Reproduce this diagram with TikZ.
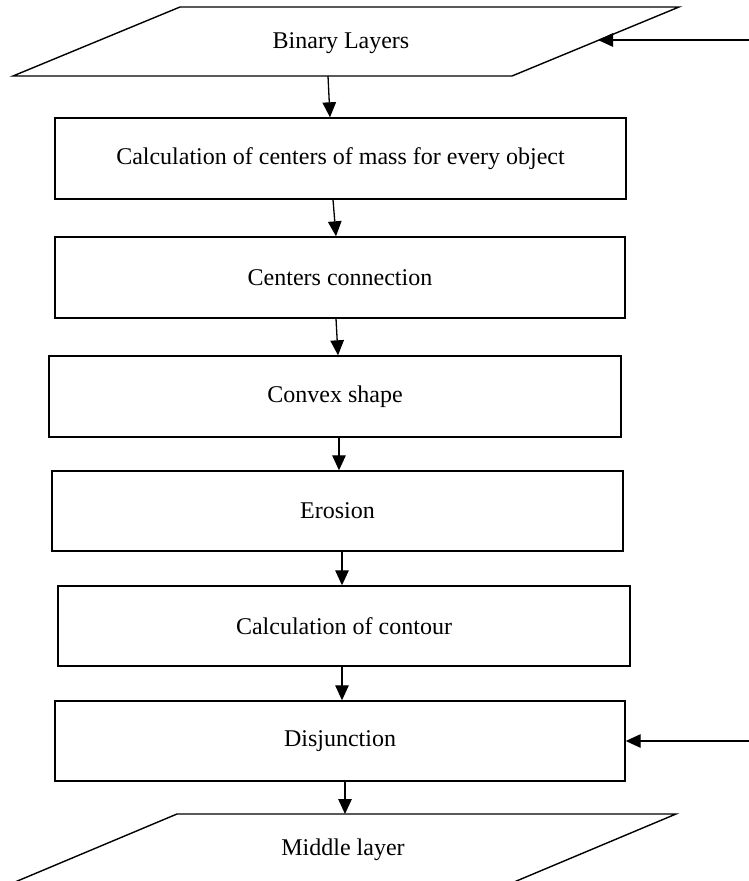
\documentclass[tikz,border=0pt]{standalone}
\usepackage{fontspec}
\setmainfont{Liberation Serif}
\usetikzlibrary{arrows.meta,calc}
\begin{document}
\begin{tikzpicture}[x=1pt,y=-1pt,
  box/.style={draw,line width=1.4pt,rectangle,minimum width=571pt,minimum height=81pt,inner sep=0pt,font=\fontsize{24}{28}\selectfont},
  lbl/.style={inner sep=0pt,font=\fontsize{24}{28}\selectfont},
  arr/.style={line width=1.3pt,-{Triangle[length=15pt,width=13.5pt]}},
  par/.style={line width=1.4pt,line join=miter}]
\clip (0,0) rectangle (749,881);
% top parallelogram
\coordinate (t1) at (180,7);
\coordinate (t2) at (679,7);
\coordinate (t3) at (512,76);
\coordinate (t4) at (13,76);
\draw[par] (t1) -- (t2) -- (t3) -- (t4) -- cycle;
\node[lbl] (binary) at (341,43) {Binary Layers};
\coordinate (tb) at (328,76);
\coordinate (tin) at (749,40);
\coordinate (tr) at (598,40);
% boxes
\node[box] (b1) at (340.5,158.5) {Calculation of centers of mass for every object};
\node[box,minimum width=570pt] (b2) at (340,277.5) {Centers connection};
\node[box,minimum width=572pt] (b3) at (335,396.5) {Convex shape};
\node[box,minimum height=80pt] (b4) at (337.5,511) {Erosion};
\node[box,minimum width=572pt,minimum height=80pt] (b5) at (344,626) {Calculation of contour};
\node[box,minimum width=570pt,minimum height=80pt] (b6) at (340,741) {Disjunction};
% bottom parallelogram
\coordinate (m1) at (177,814);
\coordinate (m2) at (676,814);
\coordinate (m3) at (495,890);
\coordinate (m4) at (-4,890);
\draw[par] (m1) -- (m2) -- (m3) -- (m4) -- cycle;
\node[lbl] (middle) at (343,850) {Middle layer};
\coordinate (mt) at (345,814);
\coordinate (din) at (749,741);
% connectors
\draw[arr] (tin) -- (tr);
\draw[arr] (tb) -- ([xshift=-10.5pt]b1.north);
\draw[arr] ([xshift=-7.5pt]b1.south) -- ([xshift=-4pt]b2.north);
\draw[arr] ([xshift=-4pt]b2.south) -- ([xshift=3pt]b3.north);
\draw[arr] ([xshift=4pt]b3.south) -- ([xshift=1.5pt]b4.north);
\draw[arr] ([xshift=4.5pt]b4.south) -- ([xshift=-2pt]b5.north);
\draw[arr] ([xshift=-2pt]b5.south) -- ([xshift=2pt]b6.north);
\draw[arr] ([xshift=5pt]b6.south) -- (mt);
\draw[arr] (din) -- (b6.east);
\end{tikzpicture}
\end{document}
